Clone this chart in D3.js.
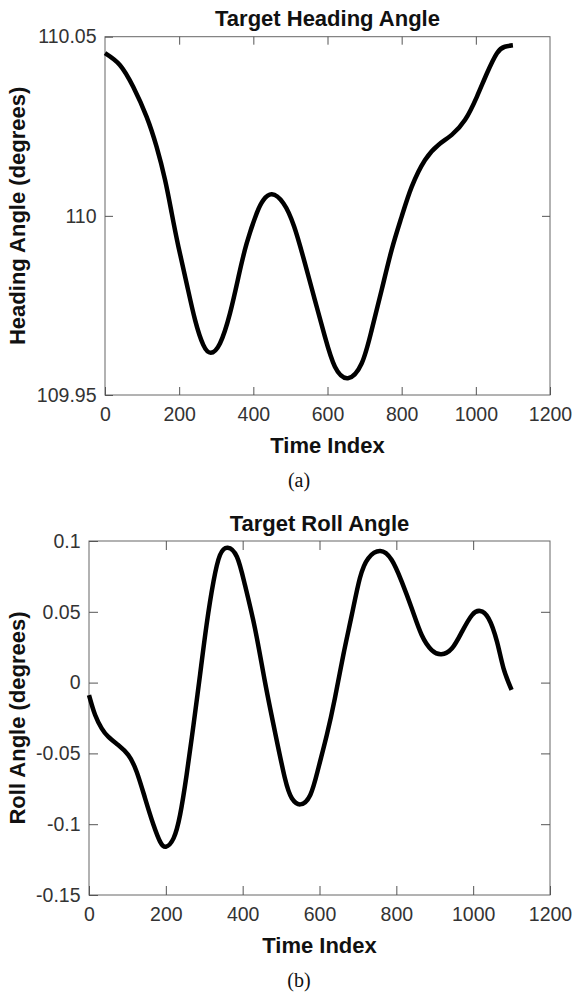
<!DOCTYPE html>
<html>
<head>
<meta charset="utf-8">
<script src="https://cdn.jsdelivr.net/npm/d3@7"></script>
<style>
  html, body { margin: 0; padding: 0; background: #fff; }
  svg { display: block; }
  .tick text { font-family: "Liberation Sans", Arial, Helvetica, sans-serif; font-size: 19.5px; fill: #333; }
  .tick line { stroke: #555; stroke-width: 1; }
  .ttl { font-family: "Liberation Sans", Arial, Helvetica, sans-serif; font-weight: bold; font-size: 22px; fill: #111; }
  .cap { font-family: "Liberation Serif", "Times New Roman", serif; font-size: 20px; fill: #111; }
</style>
</head>
<body>
<svg id="fig" width="575" height="998"></svg>
<script>
// Time index ticks shared by both panels
const timeTicks = [0, 200, 400, 600, 800, 1000, 1200];
const timeTickLabels = ["0", "200", "400", "600", "800", "1000", "1200"];

// Target heading angle (degrees) sampled along the time index
const headingTime = [0, 40, 76, 112, 139, 162, 180, 198, 220, 243, 265, 285, 310, 337, 360, 382, 409, 427, 450, 481,
  510, 539, 566, 593, 620, 655, 692, 719, 746, 773, 800, 827, 863, 899, 935, 971, 1003, 1030, 1057, 1078, 1100];
const headingDeg = [110.0454, 110.0421, 110.0360, 110.0277, 110.0193, 110.0100, 110.0007, 109.9914, 109.9812, 109.9709,
  109.9640, 109.9618, 109.9644, 109.9728, 109.9830, 109.9923, 110.0007, 110.0044, 110.0060, 110.0035,
  109.9970, 109.9868, 109.9765, 109.9663, 109.9579, 109.9547, 109.9588, 109.9681, 109.9793, 109.9905,
  109.9998, 110.0081, 110.0156, 110.0198, 110.0226, 110.0268, 110.0333, 110.0398, 110.0454, 110.0472, 110.0476];
const headingTicks = [109.95, 110, 110.05];
const headingTickLabels = ["109.95", "110", "110.05"];

// Target roll angle (degrees) sampled along the time index
const rollTime = [0, 16, 33, 50, 76, 102, 124, 146, 168, 185, 200, 220, 237, 254, 272, 289, 306, 324, 341, 361,
  385, 406, 432, 458, 484, 510, 528, 550, 576, 597, 619, 640, 662, 684, 705, 727, 758, 788, 814, 840,
  866, 892, 917, 945, 971, 997, 1018, 1040, 1062, 1079, 1100];
const rollDeg = [-0.0088, -0.0229, -0.0323, -0.0382, -0.0441, -0.0511, -0.0629, -0.0817, -0.1006, -0.1123,
  -0.1159, -0.1100, -0.0935, -0.0653, -0.0299, 0.0054, 0.0407, 0.0713, 0.0901, 0.0953,
  0.0889, 0.0689, 0.0383, 0.0006, -0.0347, -0.0676, -0.0817, -0.0860, -0.0794, -0.0605,
  -0.0370, -0.0111, 0.0195, 0.0477, 0.0737, 0.0878, 0.0929, 0.0866, 0.0713, 0.0525,
  0.0336, 0.0230, 0.0200, 0.0242, 0.0360, 0.0477, 0.0506, 0.0454, 0.0289, 0.0101, -0.0052];
const rollTicks = [-0.15, -0.1, -0.05, 0, 0.05, 0.1];
const rollTickLabels = ["-0.15", "-0.1", "-0.05", "0", "0.05", "0.1"];

const svg = d3.select("#fig");

function panel(opts) {
  const { left, right, top, bottom, tickLen } = opts;
  const x = d3.scaleLinear().domain([0, 1200]).range([left, right]);
  const y = d3.scaleLinear().domain(opts.yDomain).range([bottom, top]);
  const g = svg.append("g");

  // frame
  g.append("rect")
    .attr("x", left).attr("y", top)
    .attr("width", right - left).attr("height", bottom - top)
    .attr("fill", "none").attr("stroke", "#666").attr("stroke-width", 1);

  const xLab = d3.scaleOrdinal().domain(timeTicks).range(timeTickLabels);
  const yLab = d3.scaleOrdinal().domain(opts.yTicks).range(opts.yTickLabels);

  // inward ticks on all four sides, labels on bottom and left
  g.append("g").attr("transform", `translate(0,${bottom})`)
    .call(d3.axisBottom(x).tickValues(timeTicks).tickSize(-tickLen).tickPadding(12.5).tickFormat(d => xLab(d)))
    .call(a => a.select(".domain").remove());
  g.append("g").attr("transform", `translate(0,${top})`)
    .call(d3.axisTop(x).tickValues(timeTicks.slice(1, -1)).tickSize(-tickLen).tickFormat(""))
    .call(a => a.select(".domain").remove());
  g.append("g").attr("transform", `translate(${left},0)`)
    .call(d3.axisLeft(y).tickValues(opts.yTicks).tickSize(-tickLen).tickPadding(8.5).tickFormat(d => yLab(d)))
    .call(a => a.select(".domain").remove());
  g.append("g").attr("transform", `translate(${right},0)`)
    .call(d3.axisRight(y).tickValues(opts.yTicks.slice(1, -1)).tickSize(-tickLen).tickFormat(""))
    .call(a => a.select(".domain").remove());

  // the signal
  const pts = opts.t.map((t, i) => [t, opts.v[i]]);
  g.append("path")
    .datum(pts)
    .attr("fill", "none")
    .attr("stroke", "#000")
    .attr("stroke-width", 4.5)
    .attr("stroke-linejoin", "round")
    .attr("stroke-linecap", "butt")
    .attr("d", d3.line().x(d => x(d[0])).y(d => y(d[1])).curve(d3.curveNatural));

  const cx = (left + right) / 2;
  g.append("text").attr("class", "ttl").attr("x", cx).attr("y", top - 10.5)
    .attr("text-anchor", "middle").text(opts.title);
  g.append("text").attr("class", "ttl").attr("x", cx).attr("y", bottom + 58)
    .attr("text-anchor", "middle").text("Time Index");
  g.append("text").attr("class", "ttl")
    .attr("transform", `translate(25,${(top + bottom) / 2}) rotate(-90)`)
    .attr("text-anchor", "middle").text(opts.yLabel);
  g.append("text").attr("class", "cap").attr("x", 299).attr("y", bottom + 92)
    .attr("text-anchor", "middle").text(opts.caption);
}

panel({
  left: 105, right: 550, top: 36.7, bottom: 395, tickLen: 8,
  yDomain: [109.95, 110.05], yTicks: headingTicks, yTickLabels: headingTickLabels,
  t: headingTime, v: headingDeg,
  title: "Target Heading Angle", yLabel: "Heading Angle (degrees)", caption: "(a)"
});

panel({
  left: 89, right: 550, top: 541, bottom: 895, tickLen: 9,
  yDomain: [-0.15, 0.1], yTicks: rollTicks, yTickLabels: rollTickLabels,
  t: rollTime, v: rollDeg,
  title: "Target Roll Angle", yLabel: "Roll Angle (degrees)", caption: "(b)"
});
</script>
</body>
</html>
